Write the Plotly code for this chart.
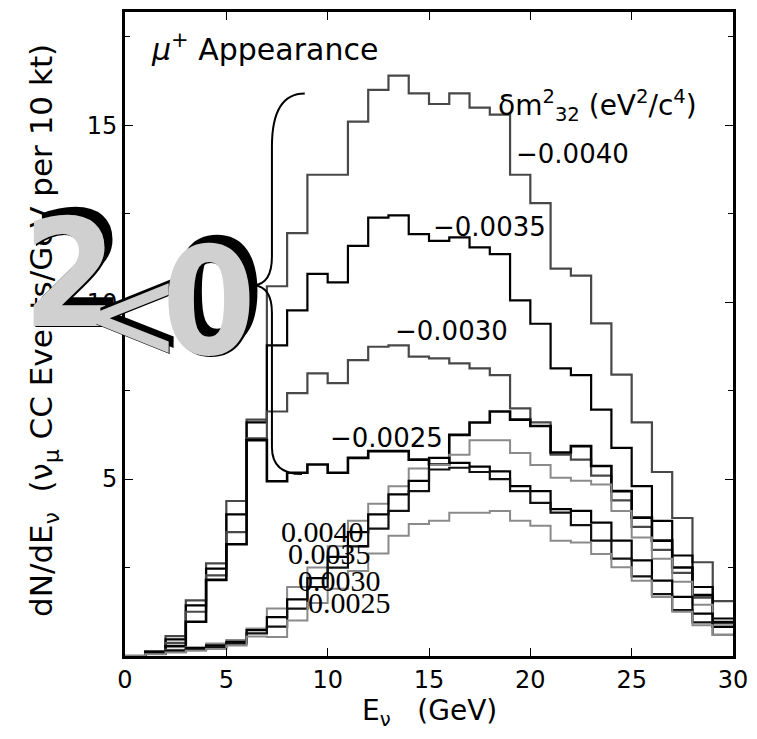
import plotly.graph_objects as go

# bin edges (GeV), 1 GeV bins
edges = list(range(0, 31))

# negative delta m^2_32 (eV^2/c^4)
n40 = [0.0, 0.12, 0.56, 1.57, 2.62, 4.38, 6.68, 10.45, 11.95, 13.6, 13.6, 15.1, 16.0, 16.4, 15.9,
       15.6, 15.9, 15.5, 15.3, 13.6, 12.8, 10.95, 10.75, 9.4, 7.95, 6.6, 5.2, 3.9, 2.65, 1.55]
n35 = [0.0, 0.12, 0.47, 1.43, 2.47, 4.0, 6.6, 8.78, 9.77, 10.8, 10.56, 11.59, 12.39, 12.45, 11.92,
       11.73, 11.83, 11.55, 11.36, 10.05, 9.39, 8.13, 7.94, 6.96, 5.88, 4.8, 3.82, 2.84, 1.95, 1.06]
n30 = [0.0, 0.12, 0.37, 1.25, 2.28, 3.5, 6.15, 6.91, 7.43, 7.99, 7.71, 8.36, 8.74, 8.78, 8.46,
       8.41, 8.27, 8.13, 7.94, 7.0, 6.6, 5.69, 5.55, 5.1, 4.4, 3.65, 3.0, 2.35, 1.65, 0.92]
n25 = [0.0, 0.12, 0.28, 0.97, 2.15, 3.16, 6.1, 4.94, 5.18, 5.41, 5.18, 5.6, 5.79, 5.79, 5.55,
       5.41, 6.25, 6.6, 6.91, 6.68, 6.5, 5.75, 5.93, 5.37, 4.66, 3.91, 3.26, 2.5, 1.72, 0.96]
# positive delta m^2_32
p40 = [0.0, 0.08, 0.18, 0.25, 0.35, 0.45, 0.78, 1.34, 1.95, 2.5, 3.1, 3.82, 4.3, 4.8, 5.3,
       5.4, 5.69, 6.1, 6.1, 5.74, 5.4, 5.04, 4.95, 4.85, 4.1, 3.35, 2.75, 2.1, 1.45, 0.85]
p35 = [0.0, 0.08, 0.15, 0.22, 0.3, 0.4, 0.73, 1.1, 1.6, 2.2, 2.8, 3.5, 4.0, 4.57, 4.95,
       5.6, 5.46, 5.35, 5.22, 4.8, 4.66, 4.15, 4.1, 3.77, 3.26, 2.7, 2.13, 1.67, 1.2, 0.82]
p30 = [0.0, 0.06, 0.12, 0.18, 0.25, 0.35, 0.64, 0.83, 1.34, 1.95, 2.5, 3.1, 3.6, 4.1, 4.66,
       5.27, 5.32, 5.2, 5.0, 4.66, 4.33, 4.05, 3.7, 3.26, 2.75, 2.25, 1.75, 1.3, 0.95, 0.6]
p25 = [0.0, 0.05, 0.1, 0.15, 0.2, 0.3, 0.55, 0.54, 1.0, 1.5, 1.9, 2.4, 2.9, 3.4, 3.73,
       3.82, 4.05, 4.05, 4.1, 3.82, 3.68, 3.26, 3.21, 2.88, 2.51, 2.13, 1.67, 1.25, 0.87, 0.59]

series = [
    ("-0.0040", n40, "#484848", 2.2),
    ("-0.0035", n35, "#000000", 2.2),
    ("-0.0030", n30, "#484848", 2.2),
    ("-0.0025", n25, "#000000", 2.6),
    ("0.0040", p40, "#8a8a8a", 2.0),
    ("0.0035", p35, "#000000", 2.2),
    ("0.0030", p30, "#111111", 2.2),
    ("0.0025", p25, "#8a8a8a", 2.0),
]

x_ticks = [0, 5, 10, 15, 20, 25, 30]
y_ticks = [5, 10, 15]
y_minor = [2.5, 7.5, 12.5, 17.5]

fig = go.Figure()
for name, vals, col, w in series:
    fig.add_trace(go.Scatter(x=edges, y=vals + [vals[-1]], mode="lines",
                             line=dict(shape="hv", color=col, width=w),
                             name=name, showlegend=False, hoverinfo="skip"))

SANS = "DejaVu Sans"
SERIF = "Liberation Serif"

ann = []
def t(x, y, s, size=26, fam=SANS, xa="left", ya="middle", col="black"):
    ann.append(dict(x=x, y=y, xref="x", yref="y", text=s,
                    showarrow=False, xanchor=xa, yanchor=ya,
                    font=dict(family=fam, size=size, color=col)))

t(1.2, 17.2, "<i>μ</i><sup>+</sup> Appearance", size=30)
t(18.3, 15.55, "δm<sup>2</sup><sub>32</sub> (eV<sup>2</sup>/c<sup>4</sup>)", size=28)
t(19.2, 14.2, "−0.0040", size=26)
t(15.1, 12.13, "−0.0035", size=26)
t(13.2, 9.19, "−0.0030", size=26)
t(10.0, 6.15, "−0.0025", size=26)
t(7.6, 3.51, "0.0040", size=30, fam=SERIF)
t(7.95, 2.89, "0.0035", size=30, fam=SERIF)
t(8.45, 2.13, "0.0030", size=30, fam=SERIF)
t(8.95, 1.52, "0.0025", size=30, fam=SERIF)

# axis titles
ann.append(dict(x=0.5, y=-0.088, xref="paper", yref="paper", showarrow=False,
                text="E<sub>ν</sub>   (GeV)", xanchor="center", yanchor="middle",
                font=dict(family=SANS, size=28, color="black")))
ann.append(dict(x=-0.133, y=0.505, xref="paper", yref="paper", showarrow=False, textangle=-90,
                text="dN/dE<sub>ν</sub>  (ν<sub>μ</sub> CC Events/GeV per 10 kt)",
                xanchor="center", yanchor="middle",
                font=dict(family=SANS, size=31, color="black")))

# decorative 3D "2<0"
BIG = "DejaVu Sans Condensed, DejaVu Sans"
def big(px, py, s, size, bold=True, off=8):
    xp = (px - 125) / 612.0
    yp = (656 - py) / 647.0
    txt = "<b>%s</b>" % s if bold else s
    for dx, dy, col in [(off, off, "black"), (1.5, -1.5, "black"), (0, 0, "#d0d0d0")]:
        ann.append(dict(x=xp + dx / 612.0, y=yp + dy / 647.0, xref="paper", yref="paper",
                        showarrow=False, text=txt, xanchor="center", yanchor="middle",
                        font=dict(family=BIG, size=size, color=col)))

big(70, 272, "2", 150)
big(132, 312, "&lt;", 130, bold=False, off=5)
big(210, 300, "0", 150)

fig.update_layout(annotations=ann)

# curly brace
fig.add_shape(type="path", xref="x", yref="y",
              path="M 8.87,15.9 Q 7.25,15.9 7.25,14.4 L 7.25,11.3 Q 7.25,10.5 6.32,10.48 "
                   "Q 7.25,10.45 7.25,9.7 L 7.25,5.9 Q 7.25,5.14 8.73,5.14",
              line=dict(color="black", width=2))

fig.update_xaxes(range=[0, 30], tickvals=x_ticks, ticktext=[str(v) for v in x_ticks],
                 showline=True, linewidth=3, linecolor="black", mirror="ticks",
                 ticks="inside", ticklen=8, tickwidth=1, tickcolor="black",
                 showgrid=False, zeroline=False,
                 tickfont=dict(family=SANS, size=24, color="black"))
fig.update_yaxes(range=[0, 18.2], tickvals=y_ticks, ticktext=[str(v) for v in y_ticks],
                 showline=True, linewidth=3, linecolor="black", mirror="ticks",
                 ticks="inside", ticklen=8, tickwidth=1, tickcolor="black",
                 minor=dict(tickvals=y_minor, ticks="inside", ticklen=5, tickcolor="black"),
                 showgrid=False, zeroline=False, ticklabelstandoff=0,
                 tickfont=dict(family=SANS, size=24, color="black"))

fig.update_layout(width=757, height=739, margin=dict(l=125, r=20, t=9, b=83),
                  paper_bgcolor="white", plot_bgcolor="white", showlegend=False)

fig.write_html("out.html")
